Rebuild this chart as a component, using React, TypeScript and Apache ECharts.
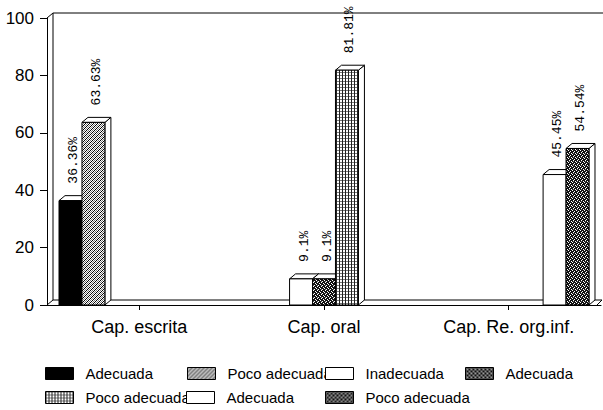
import React, { useEffect, useRef } from 'react';
import * as echarts from 'echarts';

// ---- data ----
const categories = ['Cap. escrita', 'Cap. oral', 'Cap. Re. org.inf.'];
const seriesKeys = ['adecuadaEscrita', 'pocoEscrita', 'inadecuadaOral', 'adecuadaOral', 'pocoOral', 'adecuadaRe', 'pocoRe'];
const seriesLabels = ['Adecuada', 'Poco adecuada', 'Inadecuada', 'Adecuada', 'Poco adecuada', 'Adecuada', 'Poco adecuada'];
const adecuadaEscrita = [36.36, null, null];
const pocoEscrita = [63.63, null, null];
const inadecuadaOral = [null, 9.1, null];
const adecuadaOral = [null, 9.1, null];
const pocoOral = [null, 81.81, null];
const adecuadaRe = [null, null, 45.45];
const pocoRe = [null, null, 54.54];
const seriesValues = [adecuadaEscrita, pocoEscrita, inadecuadaOral, adecuadaOral, pocoOral, adecuadaRe, pocoRe];
const yMin = 0;
const yMax = 100;
const yInterval = 20;

// ---- styling ----
const patternKinds = ['solid', 'hatch', 'white', 'speckle', 'grid', 'white', 'speckle2'];
const legendPos = [
  [45, 366], [187, 366], [325, 366], [465, 366],
  [45, 390], [186, 390], [325, 390],
];

function makeFill(kind: string): any {
  if (kind === 'solid') return '#000';
  if (kind === 'white') return '#fff';
  const size = kind === 'grid' ? 3 : 4;
  const c = document.createElement('canvas');
  c.width = size;
  c.height = size;
  const ctx = c.getContext('2d')!;
  ctx.fillStyle = '#fff';
  ctx.fillRect(0, 0, size, size);
  const px = (x: number, y: number, col: string) => {
    ctx.fillStyle = col;
    ctx.fillRect(x, y, 1, 1);
  };
  for (let y = 0; y < size; y++) {
    for (let x = 0; x < size; x++) {
      if (kind === 'hatch') {
        if ((x + y) % 4 === 0) px(x, y, '#000');
        else if ((x + y) % 4 === 2) px(x, y, '#777');
      } else if (kind === 'grid') {
        if (x === 0) px(x, y, '#222');
        else if (y === 0) px(x, y, '#777');
      } else if (kind === 'speckle' || kind === 'speckle2') {
        const whites = kind === 'speckle' ? ['0,0', '2,1', '1,2', '3,3'] : ['1,0', '3,1', '0,2', '2,3'];
        if (!whites.includes(`${x},${y}`)) px(x, y, x === 1 && y === 1 ? '#555' : '#111');
      }
    }
  }
  return { image: c, repeat: 'repeat', imageWidth: size, imageHeight: size };
}

const DX = 6;
const DY = -5;

export default function App() {
  const ref = useRef<HTMLDivElement>(null);
  useEffect(() => {
    if (!ref.current) return;
    const chart = echarts.init(ref.current, undefined, { renderer: 'svg' });
    const fills = patternKinds.map(makeFill);
    const gridL = 47, gridT = 18, gridR = 601, gridB = 305;

    const series = seriesValues.map((vals, si) => ({
      type: 'custom',
      name: seriesKeys[si],
      z: 3,
      itemStyle: { color: fills[si], borderColor: '#000', borderWidth: 1 },
      data: vals.map((v, ci) => (v == null ? null : [ci, v])).filter((d) => d),
      renderItem: (params: any, api: any) => {
        const cat = api.value(0);
        const val = api.value(1);
        const base = api.coord([cat, 0]);
        const top = api.coord([cat, val]);
        const band = api.size([1, 0])[0];
        const w = (band * 0.87) / seriesValues.length;
        const x0 = base[0] - (seriesValues.length / 2) * w + si * w;
        const x1 = x0 + w;
        const yT = top[1];
        const yB = base[1];
        const edge = { stroke: '#000', lineWidth: 1 };
        return {
          type: 'group',
          children: [
            {
              type: 'polygon',
              shape: { points: [[x1, yT], [x1 + DX, yT + DY], [x1 + DX, yB + DY], [x1, yB]] },
              style: { fill: '#fff', ...edge },
            },
            {
              type: 'polygon',
              shape: { points: [[x0, yT], [x0 + DX, yT + DY], [x1 + DX, yT + DY], [x1, yT]] },
              style: { fill: '#fff', ...edge },
            },
            {
              type: 'rect',
              shape: { x: x0, y: yT, width: w, height: yB - yT },
              style: { fill: fills[si], ...edge },
            },
            {
              type: 'text',
              x: (x0 + x1) / 2 + DX / 2,
              y: yT + DY - 12,
              rotation: Math.PI / 2,
              style: {
                text: `${val}%`,
                fill: '#000',
                fontSize: 13,
                fontFamily: 'Liberation Mono',
                align: 'left',
                verticalAlign: 'middle',
              },
            },
          ],
        };
      },
    }));

    const legends = seriesKeys.map((key, si) => ({
      show: true,
      left: legendPos[si][0],
      top: legendPos[si][1],
      padding: 0,
      z: 4 + si,
      orient: 'horizontal',
      itemWidth: 28,
      itemHeight: 12,
      selectedMode: false,
      formatter: () => seriesLabels[si],
      textStyle: { fontSize: 15, fontFamily: 'Liberation Sans', color: '#000', padding: [0, 0, 0, 7] },
      data: [
        {
          name: key,
          icon: 'rect',
          itemStyle: { color: fills[si], borderColor: '#000', borderWidth: 1 },
        },
      ],
    }));

    const line = (x1: number, y1: number, x2: number, y2: number) => ({
      type: 'line',
      z: 1,
      shape: { x1, y1, x2, y2 },
      style: { stroke: '#000', lineWidth: 1 },
    });

    chart.setOption({
      animation: false,
      backgroundColor: '#fff',
      grid: { left: gridL, top: gridT, right: 603 - gridR, bottom: 410 - gridB, containLabel: false },
      xAxis: {
        type: 'category',
        data: categories,
        axisLine: { show: true, lineStyle: { color: '#000', width: 1 } },
        axisTick: { show: true, alignWithLabel: true, length: 5, lineStyle: { color: '#000' } },
        axisLabel: { fontSize: 18, fontFamily: 'Liberation Sans', color: '#000', margin: 13 },
        splitLine: { show: false },
      },
      yAxis: {
        type: 'value',
        min: yMin,
        max: yMax,
        interval: yInterval,
        axisLine: { show: true, lineStyle: { color: '#000', width: 1 } },
        axisTick: { show: true, length: 7, lineStyle: { color: '#000' } },
        axisLabel: { fontSize: 17, fontFamily: 'Liberation Sans', color: '#000', margin: 13 },
        splitLine: { show: false },
      },
      legend: legends,
      graphic: [
        line(gridL, gridT, gridL + DX, gridT + DY),
        line(gridL + DX, gridT + DY, 603, gridT + DY),
        line(gridL + DX, gridT + DY, gridL + DX, gridB + DY),
        line(gridL + DX, gridB + DY, gridR + 1, gridB + DY),
        line(gridL, gridB, gridL + DX, gridB + DY),
        line(gridR - 4, gridB, gridR + 1, gridB + DY),
      ],
      series,
    });
    return () => chart.dispose();
  }, []);
  return (
    <div
      ref={ref}
      style={{ position: 'fixed', left: 0, top: 0, width: 603, height: 410, background: '#fff' }}
    />
  );
}
